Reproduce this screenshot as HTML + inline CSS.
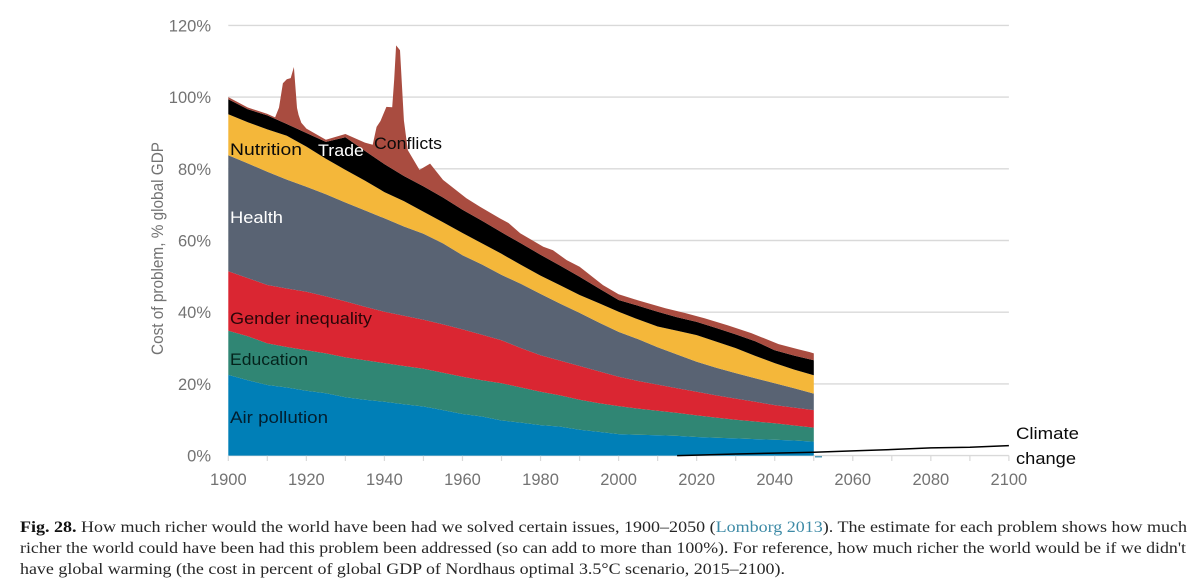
<!DOCTYPE html>
<html lang="en">
<head>
<meta charset="utf-8">
<title>Fig. 28 Cost of problems</title>
<style>
html,body{margin:0;padding:0;background:#fff;width:1200px;height:588px;overflow:hidden}
svg{display:block}
.tick{font-family:"Liberation Sans",sans-serif;font-size:16.5px;fill:#737373}
.lab{font-family:"Liberation Sans",sans-serif;font-size:16.5px;fill:#0a0a0a}
.cap{font-family:"Liberation Serif",serif;font-size:15.5px;fill:#262626}
</style>
</head>
<body>
<svg id="chart" width="1200" height="588" viewBox="0 0 1200 588" xmlns="http://www.w3.org/2000/svg">
<g id="grid"></g>
<g id="areas"></g>
<g id="axes"></g>
<path id="climate" fill="none" stroke="#000" stroke-width="1.5"></path>
<line x1="815" y1="456.8" x2="822" y2="456.8" stroke="#2d86a8" stroke-width="1.2"></line>
<text class="tick" transform="translate(163,355) rotate(-90)" textLength="213" lengthAdjust="spacingAndGlyphs">Cost of problem, % global GDP</text>
<text class="lab" x="230" y="155" textLength="72" lengthAdjust="spacingAndGlyphs">Nutrition</text>
<text class="lab" x="318" y="156" textLength="46" lengthAdjust="spacingAndGlyphs" style="fill:#fff">Trade</text>
<text class="lab" x="374" y="149" textLength="68" lengthAdjust="spacingAndGlyphs">Conflicts</text>
<text class="lab" x="230" y="223" textLength="53" lengthAdjust="spacingAndGlyphs" style="fill:#fff">Health</text>
<text class="lab" x="230" y="324" textLength="142" lengthAdjust="spacingAndGlyphs" style="fill:#2a0508">Gender inequality</text>
<text class="lab" x="230" y="365" textLength="78" lengthAdjust="spacingAndGlyphs" style="fill:#04231c">Education</text>
<text class="lab" x="230" y="423" textLength="98" lengthAdjust="spacingAndGlyphs" style="fill:#021f30">Air pollution</text>
<text class="lab" x="1016" y="439" textLength="63" lengthAdjust="spacingAndGlyphs">Climate</text>
<text class="lab" x="1016" y="464" textLength="60" lengthAdjust="spacingAndGlyphs">change</text>
<g>
<text class="cap" x="20" y="532" textLength="1167" lengthAdjust="spacingAndGlyphs"><tspan font-weight="bold" fill="#111">Fig. 28.</tspan> How much richer would the world have been had we solved certain issues, 1900–2050 (<tspan fill="#3d8aa6">Lomborg 2013</tspan>). The estimate for each problem shows how much</text>
<text class="cap" x="20" y="553" textLength="1166" lengthAdjust="spacingAndGlyphs">richer the world could have been had this problem been addressed (so can add to more than 100%). For reference, how much richer the world would be if we didn't</text>
<text class="cap" x="20" y="574" textLength="765" lengthAdjust="spacingAndGlyphs">have global warming (the cost in percent of global GDP of Nordhaus optimal 3.5°C scenario, 2015–2100).</text>
</g>
</svg>
<script>
const years = [1900,1905,1910,1915,1920,1925,1930,1935,1940,1945,1950,1955,1960,1965,1970,1975,1980,1985,1990,1995,2000,2005,2010,2015,2020,2025,2030,2035,2040,2045,2050];
const airPollution = [22.5,21,19.7,19,18.1,17.4,16.3,15.6,15,14.3,13.7,12.7,11.6,10.9,9.8,9.2,8.5,8.1,7.2,6.6,6,5.8,5.7,5.5,5.2,5,4.8,4.6,4.4,4.2,3.9];
const education = [12.3,12.3,11.6,11.3,11.3,11.1,11.1,11,10.8,10.7,10.5,10.4,10.4,10.1,10.4,9.8,9.3,8.7,8.4,8,7.8,7.3,6.8,6.4,6,5.6,5.2,4.9,4.6,4.2,3.9];
const genderInequality = [16.6,16.2,16.3,16.3,16.3,15.9,15.6,14.9,14.3,14,13.7,13.5,13.2,12.7,12,11,10.2,9.7,9.4,8.9,8.2,7.7,7.3,6.9,6.6,6.2,5.9,5.5,5.1,5,4.9];
const health = [32.4,32,31.6,30.4,29.3,28.5,27.6,26.9,26.1,24.9,24,22.6,20.7,19.6,18.2,17.9,17.1,15.9,14.8,13.6,12.5,11.7,10.4,9.4,8.4,7.7,7.1,6.6,6.1,5.4,4.6];
const nutrition = [11.4,11.5,11.8,12.2,11.2,9.9,9.1,8.3,7.3,7.1,6.1,5.9,6.2,5.9,5.9,5.3,5.1,5.1,5,5.4,5.6,5.5,5.8,6.6,7.4,7.3,7,6.2,5.6,5.2,5.1];
const trade = [4.2,3.6,3.9,3.3,3.8,4.7,9.1,8.3,7.8,7,7.1,6.9,6.5,6.3,6,6,5.8,5.5,5.1,4.1,3.3,3.8,4.1,3.8,3.7,3.8,3.8,4.1,3.6,3.9,4.2];
const conflictYears = [1900,1905,1910,1912,1913,1914,1915,1916,1916.8,1917.6,1918,1918.7,1920,1925,1930,1935,1937,1938,1939,1940.5,1942,1942.5,1943,1944,1945,1946,1949,1951.7,1955,1961,1964.5,1969.6,1971.8,1974.8,1980.7,1983.2,1986.7,1990,1996,2000,2005,2012,2017,2022,2028,2034,2041,2046,2049,2050];
const conflictCost = [0.6,0.5,0.4,0.4,3.6,10.9,12.5,13.3,16.8,5.8,4,2.2,1.2,0.6,0.9,2.3,3.2,8.9,11.3,16.3,17.2,25.3,35.1,34.4,15.5,7.8,4,7.4,4.9,3.8,3.6,3.6,3.7,2.7,2.7,3.2,2.6,2.8,1.6,1.6,1.5,1.6,1.7,1.7,1.8,1.9,2,2,2,1.9];
const climateYears = [2015,2020,2030,2040,2050,2060,2070,2080,2090,2100];
const climateCost = [0,0.15,0.45,0.7,0.95,1.3,1.7,2.15,2.35,2.8];
const yTicks = [0,20,40,60,80,100,120];
const xTicks = [1900,1910,1920,1930,1940,1950,1960,1970,1980,1990,2000,2010,2020,2030,2040,2050,2060,2070,2080,2090,2100];
const xTickLabels = [1900,1920,1940,1960,1980,2000,2020,2040,2060,2080,2100];

const NS = 'http://www.w3.org/2000/svg';
const xScale = v => 228.3 + (v - 1900) * 3.903;
const yScale = v => 455.6 - v * 3.585;

function make(tag, parent, attrs, text) {
  const el = document.createElementNS(NS, tag);
  for (const k in attrs) el.setAttribute(k, attrs[k]);
  if (text !== undefined) el.textContent = text;
  parent.appendChild(el);
  return el;
}

const grid = document.getElementById('grid');
yTicks.forEach(t => {
  const ln = make('line', grid, {x1: 228.3, x2: xScale(2100), y1: yScale(t), y2: yScale(t), stroke: '#d9d9d9', 'stroke-width': 1.4});
  
  
});

const areas = document.getElementById('areas');
const seriesList = [airPollution, education, genderInequality, health, nutrition, trade];
const seriesColors = ['#007fb7', '#308674', '#da2632', '#596373', '#f4b73a', '#000000'];
const seriesNames = ['area-air-pollution', 'area-education', 'area-gender-inequality', 'area-health', 'area-nutrition', 'area-trade'];
let base = years.map(() => 0);
seriesList.forEach((s, i) => {
  const top = base.map((b, j) => b + s[j]);
  const upper = years.map((y, j) => xScale(y).toFixed(1) + ',' + yScale(top[j]).toFixed(1));
  const lower = years.map((y, j) => xScale(y).toFixed(1) + ',' + yScale(base[j]).toFixed(1)).reverse();
  const p = make('polygon', areas, {points: upper.concat(lower).join(' '), fill: seriesColors[i]});
  
  
  base = top;
});
const tradeTop = base;
function tradeTopAt(yr) {
  for (let i = 0; i < years.length - 1; i++) {
    if (yr <= years[i + 1]) {
      const f = (yr - years[i]) / (years[i + 1] - years[i]);
      return tradeTop[i] + f * (tradeTop[i + 1] - tradeTop[i]);
    }
  }
  return tradeTop[tradeTop.length - 1];
}
const cUpper = conflictYears.map((y, j) => xScale(y).toFixed(1) + ',' + yScale(tradeTopAt(y) + conflictCost[j]).toFixed(1));
const cLower = years.map((y, j) => xScale(y).toFixed(1) + ',' + yScale(tradeTop[j]).toFixed(1)).reverse();
const conflictArea = make('polygon', areas, {points: cUpper.concat(cLower).join(' '), fill: '#a94c40'});



const axes = document.getElementById('axes');
xTicks.forEach(t => {
  const ln = make('line', axes, {x1: xScale(t), x2: xScale(t), y1: 455.6, y2: 461, stroke: '#d9d9d9', 'stroke-width': 1.2});
  
  
});
xTickLabels.forEach(t => {
  const tx = make('text', axes, {x: xScale(t), y: 485, 'text-anchor': 'middle', class: 'tick'}, String(t));
  
  
});
yTicks.forEach(t => {
  const tx = make('text', axes, {x: 211, y: yScale(t) + 6, 'text-anchor': 'end', class: 'tick'}, t + '%');
  
  
});

document.getElementById('climate').setAttribute('d', climateYears.map((y, j) => (j ? 'L' : 'M') + xScale(y).toFixed(1) + ' ' + yScale(climateCost[j]).toFixed(1)).join(' '));
</script>
</body>
</html>
